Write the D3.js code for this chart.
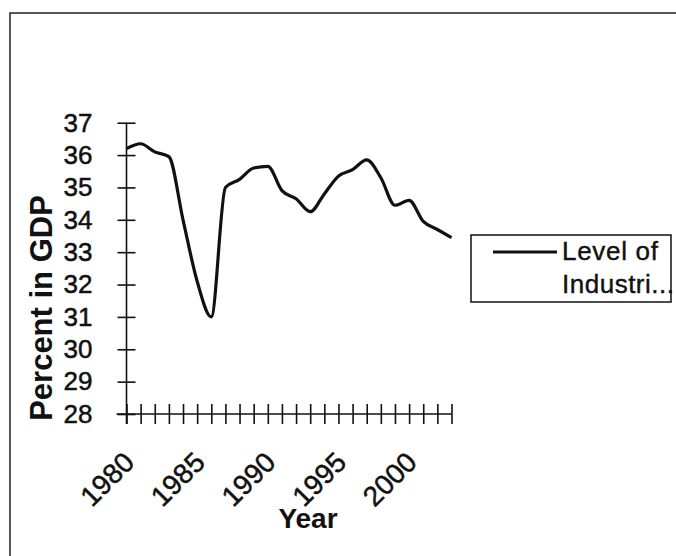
<!DOCTYPE html>
<html>
<head>
<meta charset="utf-8">
<script src="https://cdn.jsdelivr.net/npm/d3@7"></script>
<style>
  body { margin: 0; background: #fff; }
  svg { display: block; font-family: Arial, "Liberation Sans", sans-serif; }
</style>
</head>
<body>
<div id="chart"></div>
<script>
// data
var years = d3.range(1980, 2004);
var industry = [36.2, 36.35, 36.1, 35.95, 34.0, 32.1, 31.0, 35.0, 35.25, 35.6, 35.65, 34.9,
  34.65, 34.25, 34.8, 35.35, 35.55, 35.85, 35.3, 34.45, 34.6, 33.95, 33.7, 33.45];
var yTicks = [28, 29, 30, 31, 32, 33, 34, 35, 36, 37];
var xLabels = [1980, 1985, 1990, 1995, 2000];
var seriesName = ["Level of", "Industri..."];

var width = 676, height = 556;
var ink = "#111";

var svg = d3.select("#chart").append("svg")
  .attr("width", width)
  .attr("height", height);

// outer chart frame (right and bottom run off the page)
svg.append("rect")
  .attr("x", 10).attr("y", 13)
  .attr("width", 700).attr("height", 600)
  .attr("fill", "none")
  .attr("stroke", "#222")
  .attr("stroke-width", 1.5);

var xx = d3.scalePoint().domain(years).range([126.5, 451.5]);
var yy = d3.scaleLinear().domain([28, 37]).range([414, 122.7]);

var data = years.map(function (d, i) { return { year: d, val: industry[i] }; });

// y axis
var yAxis = svg.append("g")
  .attr("transform", "translate(" + xx(1980) + ",0)")
  .call(d3.axisLeft(yy).tickValues(yTicks).tickSize(0).tickPadding(34));
yAxis.select(".domain").attr("stroke", ink).attr("stroke-width", 1.6)
  .attr("d", "M0," + yy(37) + "V" + (yy(28) + 10));
yAxis.selectAll(".tick line").attr("x1", -9).attr("x2", 9)
  .attr("stroke", ink).attr("stroke-width", 1.6);
yAxis.selectAll(".tick text")
  .attr("font-size", 26).attr("fill", ink)
  .attr("stroke", ink).attr("stroke-width", 0.5)
  .attr("font-family", "Arial, 'Liberation Sans', sans-serif");

// x axis
var xAxis = svg.append("g")
  .attr("transform", "translate(0," + yy(28) + ")")
  .call(d3.axisBottom(xx).tickSize(0)
    .tickFormat(function (d) { return xLabels.indexOf(d) >= 0 ? d : ""; }));
xAxis.select(".domain").attr("stroke", ink).attr("stroke-width", 1.6)
  .attr("d", "M" + (xx(1980) - 10) + ",0H" + xx(2003));
xAxis.selectAll(".tick line").attr("y1", -10).attr("y2", 10)
  .attr("stroke", ink).attr("stroke-width", 1.6);
xAxis.selectAll(".tick text")
  .attr("font-size", 28).attr("fill", ink)
  .attr("stroke", ink).attr("stroke-width", 0.5)
  .attr("font-family", "Arial, 'Liberation Sans', sans-serif")
  .attr("text-anchor", "end")
  .attr("dy", 0)
  .attr("y", 0)
  .attr("transform", "translate(9,50) rotate(-45)");

// the series, smoothed like the original
var line = d3.line()
  .x(function (d) { return xx(d.year); })
  .y(function (d) { return yy(d.val); })
  .curve(d3.curveMonotoneX);

svg.append("path")
  .datum(data)
  .attr("fill", "none")
  .attr("stroke", ink)
  .attr("stroke-width", 3.2)
  .attr("stroke-linejoin", "round")
  .attr("d", line);

// axis titles
svg.append("text")
  .attr("transform", "translate(52,308) rotate(-90)")
  .attr("text-anchor", "middle")
  .attr("font-size", 31)
  .attr("font-weight", "bold")
  .attr("fill", ink)
  .text("Percent in GDP");

svg.append("text")
  .attr("x", 308).attr("y", 528)
  .attr("text-anchor", "middle")
  .attr("font-size", 28)
  .attr("font-weight", "bold")
  .attr("fill", ink)
  .text("Year");

// legend
var legend = svg.append("g");
legend.append("rect")
  .attr("x", 471).attr("y", 235)
  .attr("width", 200).attr("height", 67)
  .attr("fill", "#fff")
  .attr("stroke", ink)
  .attr("stroke-width", 1.5);
legend.append("line")
  .attr("x1", 493).attr("x2", 557)
  .attr("y1", 252).attr("y2", 252)
  .attr("stroke", ink)
  .attr("stroke-width", 2.8);
legend.selectAll("text.lab")
  .data(seriesName)
  .enter().append("text")
  .attr("class", "lab")
  .attr("x", 562)
  .attr("y", function (d, i) { return 260 + i * 33; })
  .attr("font-size", 26)
  .attr("fill", ink)
  .attr("stroke", ink).attr("stroke-width", 0.4)
  .attr("textLength", function (d, i) { return i === 0 ? 96 : 112; })
  .attr("lengthAdjust", "spacing")
  .text(function (d) { return d; });
</script>
</body>
</html>
